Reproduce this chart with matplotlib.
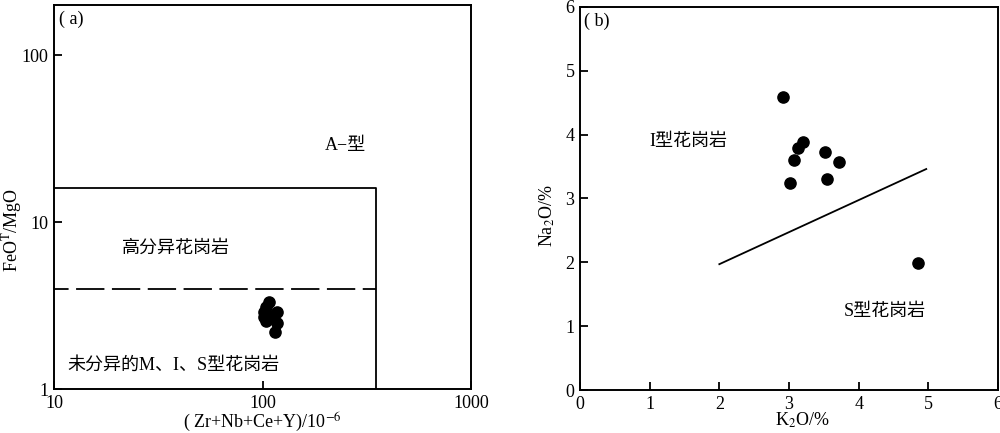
import matplotlib
matplotlib.use("Agg")
import matplotlib.pyplot as plt
from matplotlib.ticker import FixedLocator, NullLocator, FixedFormatter

plt.rcParams['font.family'] = ['Liberation Serif', 'Noto Sans CJK SC']
plt.rcParams['mathtext.fontset'] = 'stix'
plt.rcParams['font.size'] = 13
plt.rcParams['lines.scale_dashes'] = False

# (a) Zr+Nb+Ce+Y vs FeOT/MgO
zr_sum = [108, 104, 102, 102, 104, 112, 118, 118, 115]
feo_mgo = [3.3, 3.1, 2.9, 2.7, 2.55, 2.75, 2.9, 2.5, 2.2]
a_box_x = 350
a_box_y = 16
fg_line_y = 4

# (b) K2O vs Na2O
k2o = [2.92, 3.20, 3.13, 3.07, 3.01, 3.51, 3.72, 3.55, 4.85]
na2o = [4.58, 3.89, 3.79, 3.60, 3.24, 3.72, 3.57, 3.30, 1.99]
is_line_x = [2.0, 4.97]
is_line_y = [1.97, 3.46]

fig = plt.figure(figsize=(10, 4.33), dpi=100)

ax1 = fig.add_axes([0.054, 0.1016, 0.417, 0.887])
ax1.set_xscale('log')
ax1.set_yscale('log')
ax1.set_xlim(10, 1000)
ax1.set_ylim(1, 200)
ax1.xaxis.set_major_locator(FixedLocator([10, 100, 1000]))
ax1.xaxis.set_major_formatter(FixedFormatter(['10', '100', '1000']))
ax1.xaxis.set_minor_locator(NullLocator())
ax1.yaxis.set_major_locator(FixedLocator([1, 10, 100]))
ax1.yaxis.set_major_formatter(FixedFormatter(['1', '10', '100']))
ax1.yaxis.set_minor_locator(NullLocator())

# field boundaries
ax1.plot([10, a_box_x, a_box_x], [a_box_y, a_box_y, 1], color='black', lw=1.3)
ax1.plot([10, a_box_x], [fg_line_y, fg_line_y], color='black', lw=1.3,
         ls=(9.9, (20.4, 5.4)))
ax1.scatter(zr_sum, feo_mgo, s=65, color='black', zorder=3)

ax1.text(0.012, 0.985, '( a)', transform=ax1.transAxes, va='top', ha='left')
ax1.text(250, 28.7, 'A\u2212型', ha='center', va='center')
ax1.text(38.5, 6.96, '高分异花岗岩', ha='center', va='center')
ax1.text(37.2, 1.39, '未分异的M、I、S型花岗岩', ha='center', va='center')
ax1.set_xlabel('( Zr+Nb+Ce+Y)/10$^{-6}$', va='center')
ax1.xaxis.set_label_coords(0.5, -0.088)
ax1.set_ylabel('FeO$^{\\mathrm{T}}$/MgO', va='center')
ax1.yaxis.set_label_coords(-0.1, 0.414)

ax2 = fig.add_axes([0.580, 0.0993, 0.418, 0.885])
ax2.set_xlim(0, 6)
ax2.set_ylim(0, 6)
ax2.set_xticks(range(0, 7))
ax2.set_yticks(range(0, 7))
ax2.plot(is_line_x, is_line_y, color='black', lw=1.3)
ax2.scatter(k2o, na2o, s=65, color='black', zorder=3)
ax2.text(0.06, 5.78, '( b)', va='center', ha='left')
ax2.text(1.0, 3.89, 'I型花岗岩', ha='left', va='center')
ax2.text(3.78, 1.23, 'S型花岗岩', ha='left', va='center')
ax2.set_xlabel('K$_2$O/%', va='center')
ax2.xaxis.set_label_coords(0.533, -0.08)
ax2.set_ylabel('Na$_2$O/%', va='center')
ax2.yaxis.set_label_coords(-0.079, 0.454)

for ax in (ax1, ax2):
    for sp in ax.spines.values():
        sp.set_linewidth(1.4)
    ax.tick_params(direction='in', length=6, width=1.3, pad=4, labelsize=13)

plt.savefig('out.png', dpi=100)
